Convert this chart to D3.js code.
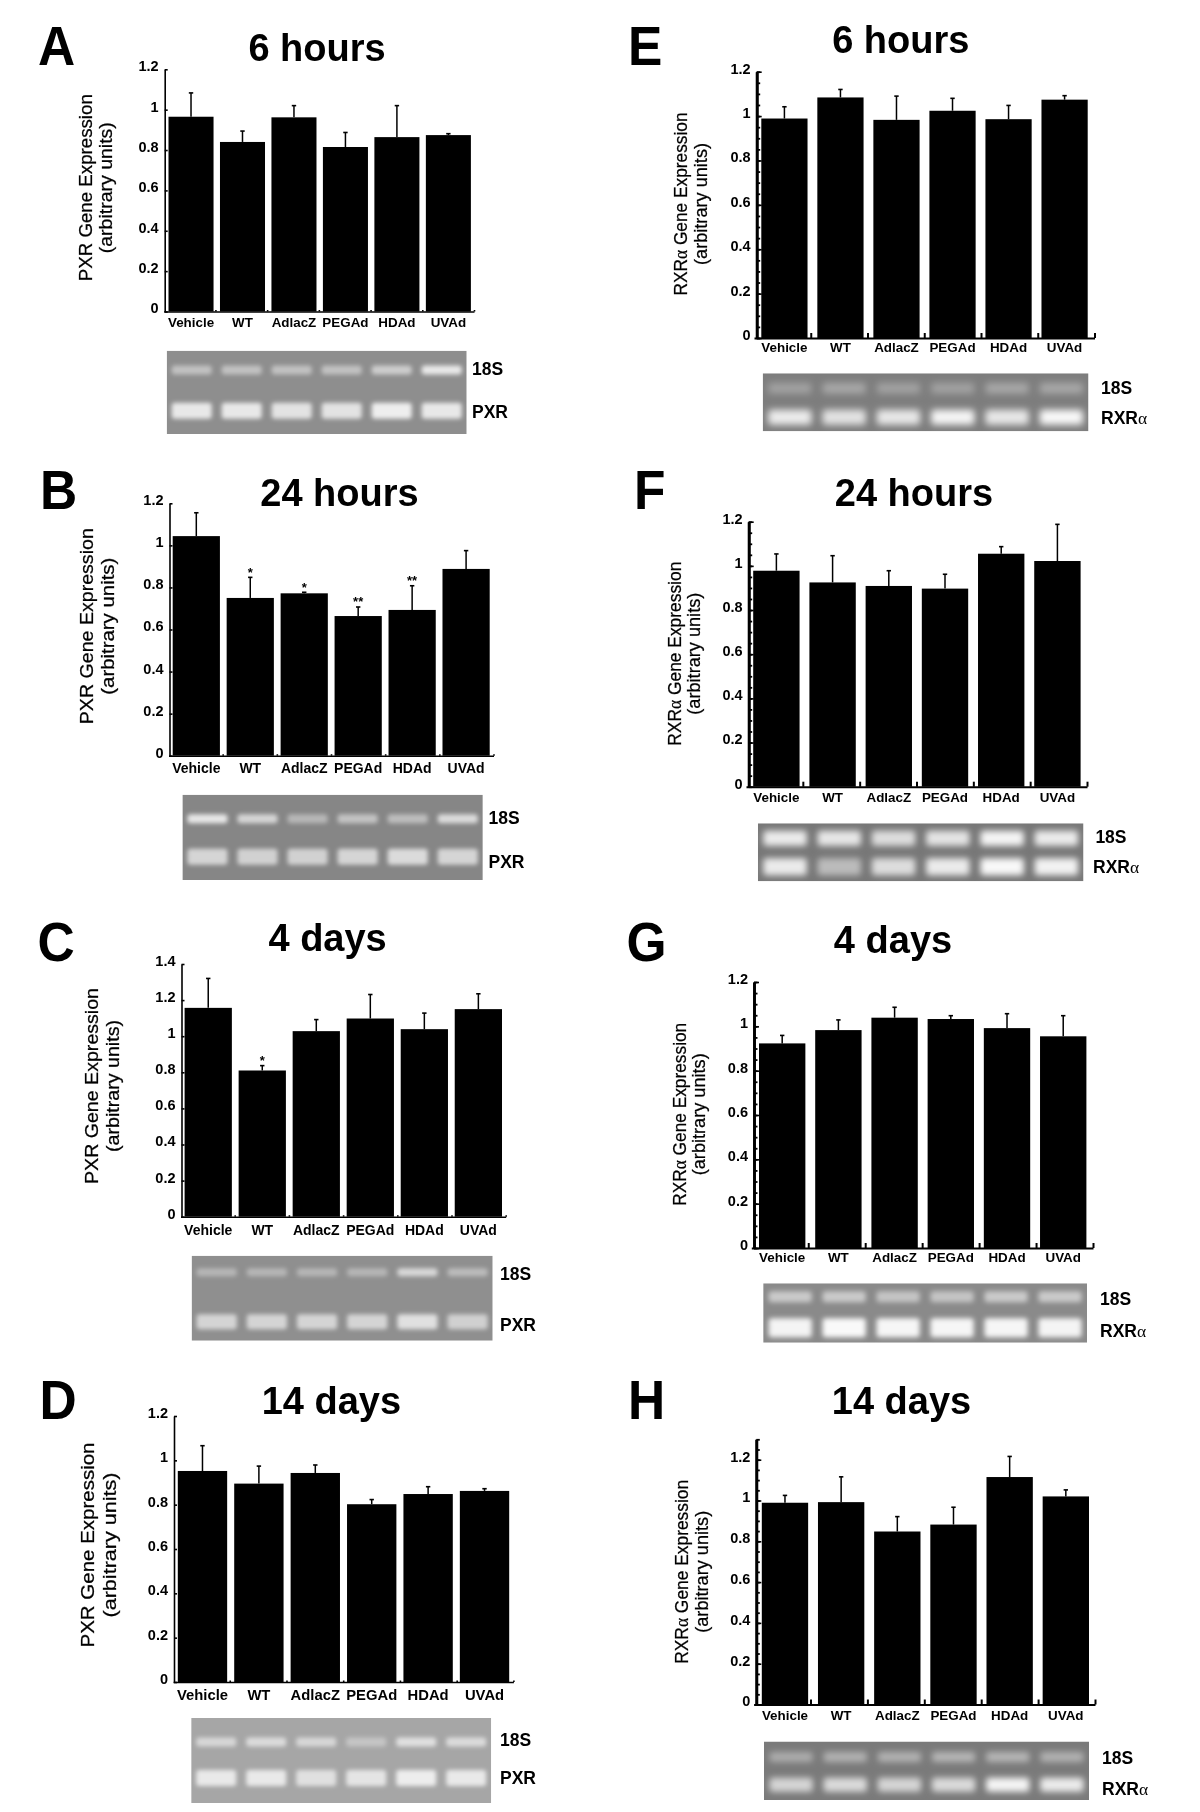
<!DOCTYPE html>
<html>
<head>
<meta charset="utf-8">
<script src="https://cdn.jsdelivr.net/npm/d3@7"></script>
<style>
  html, body { margin: 0; background: #fff; }
  svg { display: block; filter: blur(0.35px); }
  text { font-family: "Liberation Sans", Arial, sans-serif; fill: #000; }
</style>
</head>
<body>
<div id="fig"></div>
<script>
var categories = ["Vehicle", "WT", "AdlacZ", "PEGAd", "HDAd", "UVAd"];
var ticks12 = [0, 0.2, 0.4, 0.6, 0.8, 1, 1.2];
var ticks14 = [0, 0.2, 0.4, 0.6, 0.8, 1, 1.2, 1.4];

// bar heights and top of the error whisker
var pxr6h = [0.965, 0.84, 0.962, 0.815, 0.864, 0.874];
var pxr6hErr = [1.083, 0.894, 1.02, 0.887, 1.02, 0.881];
var pxr24h = [1.044, 0.75, 0.772, 0.664, 0.693, 0.888];
var pxr24hErr = [1.155, 0.848, 0.777, 0.707, 0.808, 0.975];
var pxr4d = [1.157, 0.81, 1.028, 1.098, 1.039, 1.15];
var pxr4dErr = [1.32, 0.837, 1.092, 1.231, 1.128, 1.235];
var pxr14d = [0.952, 0.895, 0.943, 0.802, 0.848, 0.862];
var pxr14dErr = [1.066, 0.974, 0.979, 0.823, 0.881, 0.872];
var rxr6h = [0.989, 1.084, 0.983, 1.024, 0.986, 1.074];
var rxr6hErr = [1.042, 1.12, 1.09, 1.08, 1.048, 1.092];
var rxr24h = [0.978, 0.925, 0.909, 0.897, 1.055, 1.022];
var rxr24hErr = [1.054, 1.046, 0.978, 0.962, 1.087, 1.188];
var rxr4d = [0.923, 0.983, 1.039, 1.033, 0.992, 0.955];
var rxr4dErr = [0.959, 1.029, 1.086, 1.048, 1.057, 1.048];
var rxr14d = [0.989, 0.992, 0.848, 0.882, 1.115, 1.02];
var rxr14dErr = [1.025, 1.116, 0.921, 0.967, 1.216, 1.052];

// significance marks
var pxr24hStars = ["", "*", "*", "**", "**", ""];
var pxr4dStars = ["", "*", "", "", "", ""];
var noStars = ["", "", "", "", "", ""];

// gel band brightness per lane (0-1)
var gelA18 = [0.45, 0.45, 0.45, 0.45, 0.55, 0.8];
var gelAtgt = [0.8, 0.8, 0.75, 0.75, 0.85, 0.8];
var gelB18 = [0.8, 0.65, 0.4, 0.5, 0.45, 0.7];
var gelBtgt = [0.65, 0.62, 0.62, 0.65, 0.7, 0.65];
var gelC18 = [0.35, 0.35, 0.35, 0.35, 0.65, 0.4];
var gelCtgt = [0.62, 0.62, 0.62, 0.62, 0.72, 0.58];
var gelD18 = [0.55, 0.6, 0.55, 0.35, 0.65, 0.6];
var gelDtgt = [0.75, 0.75, 0.65, 0.7, 0.8, 0.75];
var gelE18 = [0.28, 0.32, 0.28, 0.28, 0.32, 0.32];
var gelEtgt = [0.85, 0.78, 0.82, 0.92, 0.82, 0.95];
var gelF18 = [0.85, 0.82, 0.75, 0.8, 0.92, 0.85];
var gelFtgt = [0.85, 0.5, 0.75, 0.85, 0.95, 0.9];
var gelG18 = [0.55, 0.55, 0.5, 0.5, 0.55, 0.55];
var gelGtgt = [0.9, 0.95, 0.92, 0.92, 0.92, 0.9];
var gelH18 = [0.38, 0.42, 0.42, 0.45, 0.45, 0.42];
var gelHtgt = [0.68, 0.72, 0.68, 0.72, 0.92, 0.85];

// layout of every panel, in page pixels
var panels = [
  { letter: "A", lx: 38, ly: 65, title: "6 hours", tx: 317, ty: 61, gene: "PXR", v: pxr6h, e: pxr6hErr, stars: noStars, dom: 1.2, ticks: ticks12,
    ax: 164.7, axEnd: 474, top: 69.3, zero: 311.5, barL: 168.5, barR: 470.9, x1: 92, x2: 112, cy: 187.7, len1: 187, len2: 131, catY: 326.7, catSize: 13.4,
    gel: [166.7, 466.7, 350.7, 434], g18: 370, gT: 410.7, a18: gelA18, aT: gelAtgt, bg: "#8e8e8e", blur: 2, h18: 9, hT: 16, lab18: [472, 375], labT: [472, 417.7] },
  { letter: "B", lx: 40, ly: 509, title: "24 hours", tx: 339.5, ty: 506, gene: "PXR", v: pxr24h, e: pxr24hErr, stars: pxr24hStars, dom: 1.2, ticks: ticks12,
    ax: 169.5, axEnd: 493.5, top: 503.3, zero: 755.7, barL: 172.7, barR: 489.7, x1: 92.7, x2: 113.8, cy: 626.2, len1: 196, len2: 137, catY: 772.7, catSize: 14,
    gel: [182.4, 482.8, 794.7, 880], g18: 818.7, gT: 856.7, a18: gelB18, aT: gelBtgt, bg: "#868686", blur: 2, h18: 9, hT: 16, lab18: [488.5, 824.3], labT: [488.5, 868.3] },
  { letter: "C", lx: 37.5, ly: 960.7, title: "4 days", tx: 327.6, ty: 950.7, gene: "PXR", v: pxr4d, e: pxr4dErr, stars: pxr4dStars, dom: 1.4, ticks: ticks14,
    ax: 181.5, axEnd: 505.7, top: 964, zero: 1216.7, barL: 184.6, barR: 502, x1: 97.7, x2: 118.8, cy: 1086, len1: 196, len2: 132, catY: 1235, catSize: 14,
    gel: [191.6, 492.7, 1255.7, 1340.7], g18: 1272.3, gT: 1321.7, a18: gelC18, aT: gelCtgt, bg: "#8f8f8f", blur: 2, h18: 8, hT: 15, lab18: [500, 1280], labT: [500, 1331] },
  { letter: "D", lx: 39.5, ly: 1419.3, title: "14 days", tx: 331.4, ty: 1413.7, gene: "PXR", v: pxr14d, e: pxr14dErr, stars: noStars, dom: 1.2, ticks: ticks12,
    ax: 174, axEnd: 513.4, top: 1416, zero: 1682, barL: 177.8, barR: 509.2, x1: 93.9, x2: 115.7, cy: 1545, len1: 205, len2: 145, catY: 1699.7, catSize: 14.8,
    gel: [191.2, 491.2, 1718, 1803], g18: 1742, gT: 1778, a18: gelD18, aT: gelDtgt, bg: "#a6a6a6", blur: 2, h18: 9, hT: 16, lab18: [500, 1746.3], labT: [500, 1783.7] },
  { letter: "E", lx: 628, ly: 65, title: "6 hours", tx: 900.8, ty: 53, gene: "RXR", v: rxr6h, e: rxr6hErr, stars: noStars, dom: 1.2, ticks: ticks12,
    ax: 756.7, axEnd: 1094.5, top: 71.7, zero: 338, barL: 761.3, barR: 1087.7, x1: 687.4, x2: 707.3, cy: 204, len1: 183, len2: 122, catY: 351.7, catSize: 13.4,
    gel: [762.7, 1088.5, 373.3, 431.3], g18: 388.3, gT: 417.3, a18: gelE18, aT: gelEtgt, bg: "#7d7d7d", blur: 3.6, h18: 11, hT: 15, lab18: [1101, 394.3], labT: [1101, 424] },
  { letter: "F", lx: 634, ly: 509, title: "24 hours", tx: 914, ty: 506, gene: "RXR", v: rxr24h, e: rxr24hErr, stars: noStars, dom: 1.2, ticks: ticks12,
    ax: 748.7, axEnd: 1087, top: 521.7, zero: 786.7, barL: 753.2, barR: 1080.6, x1: 680.5, x2: 699.6, cy: 653.7, len1: 184, len2: 122, catY: 801.7, catSize: 13.4,
    gel: [757.9, 1083.5, 823.3, 881.3], g18: 838.3, gT: 866.7, a18: gelF18, aT: gelFtgt, bg: "#777777", blur: 3, h18: 15, hT: 17, lab18: [1095.4, 843.3], labT: [1093, 873.3] },
  { letter: "G", lx: 626.5, ly: 960.7, title: "4 days", tx: 893, ty: 953.3, gene: "RXR", v: rxr4d, e: rxr4dErr, stars: noStars, dom: 1.2, ticks: ticks12,
    ax: 754, axEnd: 1093, top: 982, zero: 1248, barL: 759, barR: 1086.4, x1: 685.8, x2: 705, cy: 1114.3, len1: 183, len2: 122, catY: 1262.3, catSize: 13.4,
    gel: [763.2, 1087, 1283.3, 1342.7], g18: 1296.7, gT: 1327.7, a18: gelG18, aT: gelGtgt, bg: "#8a8a8a", blur: 2.8, h18: 11, hT: 19, lab18: [1100, 1305], labT: [1100, 1337.3] },
  { letter: "H", lx: 628, ly: 1419.3, title: "14 days", tx: 901.5, ty: 1413.7, gene: "RXR", v: rxr14d, e: rxr14dErr, stars: noStars, dom: 1.3, ticks: ticks12,
    ax: 756.3, axEnd: 1095, top: 1439.3, zero: 1704.5, barL: 761.8, barR: 1089, x1: 688, x2: 708.4, cy: 1571.8, len1: 184, len2: 122, catY: 1719.7, catSize: 13.4,
    gel: [764, 1089, 1741.5, 1800], g18: 1757, gT: 1784.7, a18: gelH18, aT: gelHtgt, bg: "#7a7a7a", blur: 3.2, h18: 10, hT: 14, lab18: [1102, 1763.7], labT: [1102, 1795.3] }
];

var svg = d3.select("#fig").append("svg").attr("width", 1200).attr("height", 1812);
var defs = svg.append("defs");

function geneLabel(sel, gene, suffix) {
  // the alpha in the figure is a thin symbol glyph, so it gets its own tspan
  sel.append("tspan").text(gene);
  if (gene == "RXR") {
    sel.append("tspan").style("font-family", "'Liberation Serif', serif").style("font-weight", "normal").text("\u03b1");
  }
  if (suffix) sel.append("tspan").text(suffix);
}

panels.forEach(function (p, idx) {
  var g = svg.append("g");
  var minorStyle = p.gene == "RXR";

  var y = d3.scaleLinear().domain([0, p.dom]).range([p.zero, p.top]);
  var x = d3.scaleBand().domain(categories).range([p.barL, p.barR]).paddingInner(minorStyle ? 0.175 : 0.125).paddingOuter(0);
  var xStart = minorStyle ? p.ax - 2.7 : p.ax - 1;
  var xEdges = d3.scaleLinear().domain([0, 6]).range([xStart, p.axEnd]);

  g.append("text").attr("transform", "translate(" + p.lx + "," + p.ly + ") scale(0.92,1)")
    .attr("font-size", 56).attr("font-weight", "bold").text(p.letter);
  g.append("text").attr("x", p.tx).attr("y", p.ty).attr("text-anchor", "middle").attr("font-size", 38).attr("font-weight", "bold").text(p.title);

  // y title, two lines
  var t1 = g.append("text").attr("transform", "translate(" + p.x1 + "," + p.cy + ") rotate(-90)").attr("text-anchor", "middle")
    .attr("font-size", 18.5).attr("textLength", p.len1).attr("lengthAdjust", "spacingAndGlyphs")
    .attr("stroke", "#000").attr("stroke-width", 0.25);
  geneLabel(t1, p.gene, " Gene Expression");
  g.append("text").attr("transform", "translate(" + p.x2 + "," + p.cy + ") rotate(-90)").attr("text-anchor", "middle")
    .attr("font-size", 18.5).attr("textLength", p.len2).attr("lengthAdjust", "spacingAndGlyphs")
    .attr("stroke", "#000").attr("stroke-width", 0.25).text("(arbitrary units)");

  // bars
  g.append("g").selectAll("rect").data(categories).join("rect")
    .attr("x", function (d) { return x(d); })
    .attr("width", x.bandwidth())
    .attr("y", function (d, i) { return y(p.v[i]); })
    .attr("height", function (d, i) { return p.zero - y(p.v[i]); })
    .attr("fill", "#000");

  // error whiskers
  var err = g.append("g").attr("stroke", "#000");
  err.selectAll("line.stem").data(categories).join("line").attr("class", "stem")
    .attr("x1", function (d) { return x(d) + x.bandwidth() / 2; })
    .attr("x2", function (d) { return x(d) + x.bandwidth() / 2; })
    .attr("y1", function (d, i) { return y(p.v[i]); })
    .attr("y2", function (d, i) { return y(p.e[i]); })
    .attr("stroke-width", 1.5);
  err.selectAll("line.cap").data(categories).join("line").attr("class", "cap")
    .attr("x1", function (d) { return x(d) + x.bandwidth() / 2 - 2.2; })
    .attr("x2", function (d) { return x(d) + x.bandwidth() / 2 + 2.2; })
    .attr("y1", function (d, i) { return y(p.e[i]); })
    .attr("y2", function (d, i) { return y(p.e[i]); })
    .attr("stroke-width", 1.6);

  // stars
  g.append("g").selectAll("text").data(categories).join("text")
    .attr("x", function (d) { return x(d) + x.bandwidth() / 2; })
    .attr("y", function (d, i) { return y(p.e[i]) - 0.5; })
    .attr("text-anchor", "middle").attr("font-size", 13).attr("font-weight", "bold")
    .text(function (d, i) { return p.stars[i]; });

  // axes
  var lineW = minorStyle ? 2.7 : 1.6;
  var yAxis = d3.axisLeft(y).tickValues(p.ticks).tickSizeOuter(0)
    .tickSizeInner(minorStyle ? -5 : -3).tickPadding(6)
    .tickFormat(function (d) { return d; });
  var ya = g.append("g").attr("transform", "translate(" + p.ax + ",0)").call(yAxis);
  ya.selectAll("path,line").attr("stroke", "#000").attr("stroke-width", lineW);
  ya.selectAll("line").attr("stroke-width", 1.6);
  ya.selectAll("text").attr("font-size", 14.5).attr("font-weight", "bold").attr("dy", "0.1em")
    .style("font-family", "'Liberation Sans', Arial, sans-serif");

  if (minorStyle) {
    var minor = d3.range(0, Math.round(p.dom * 20) + 1).map(function (k) { return k / 20; });
    var ma = g.append("g").attr("transform", "translate(" + p.ax + ",0)")
      .call(d3.axisLeft(y).tickValues(minor).tickSizeOuter(0).tickSizeInner(-3.5).tickFormat(""));
    ma.selectAll("path,line").attr("stroke", "#000").attr("stroke-width", 1.8);
    ma.select("path").attr("stroke-width", lineW);
  }

  var xAxis = d3.axisBottom(xEdges).tickValues(d3.range(1, 7)).tickSizeOuter(0)
    .tickSizeInner(minorStyle ? -5 : -1.5).tickFormat("");
  var xa = g.append("g").attr("transform", "translate(0," + p.zero + ")").call(xAxis);
  xa.selectAll("path,line").attr("stroke", "#000").attr("stroke-width", minorStyle ? 2 : 1.6);

  // category names
  g.append("g").selectAll("text").data(categories).join("text")
    .attr("x", function (d) { return x(d) + x.bandwidth() / 2; })
    .attr("y", p.catY).attr("text-anchor", "middle").attr("font-size", p.catSize).attr("font-weight", "bold")
    .text(function (d) { return d; });

  // gel strip
  var gelId = "gel" + idx;
  defs.append("filter").attr("id", gelId + "b").attr("x", "-30%").attr("y", "-150%").attr("width", "160%").attr("height", "400%")
    .append("feGaussianBlur").attr("stdDeviation", p.blur);
  defs.append("clipPath").attr("id", gelId + "c").append("rect")
    .attr("x", p.gel[0]).attr("y", p.gel[2]).attr("width", p.gel[1] - p.gel[0]).attr("height", p.gel[3] - p.gel[2]);
  var lanes = d3.scaleBand().domain(categories).range([p.gel[0], p.gel[1]]).paddingInner(0.2).paddingOuter(0.1);
  var gel = g.append("g").attr("clip-path", "url(#" + gelId + "c)");
  gel.append("rect").attr("x", p.gel[0]).attr("y", p.gel[2]).attr("width", p.gel[1] - p.gel[0]).attr("height", p.gel[3] - p.gel[2]).attr("fill", p.bg);
  [[p.a18, p.g18, p.h18], [p.aT, p.gT, p.hT]].forEach(function (row) {
    gel.append("g").selectAll("rect").data(categories).join("rect")
      .attr("x", function (d) { return lanes(d); })
      .attr("width", lanes.bandwidth())
      .attr("y", row[1] - row[2] / 2)
      .attr("height", row[2])
      .attr("rx", 3)
      .attr("fill", "#fff")
      .attr("fill-opacity", function (d, i) { return row[0][i]; })
      .attr("filter", "url(#" + gelId + "b)");
  });

  g.append("text").attr("x", p.lab18[0]).attr("y", p.lab18[1]).attr("font-size", 17.5).attr("font-weight", "bold").text("18S");
  var lt = g.append("text").attr("x", p.labT[0]).attr("y", p.labT[1]).attr("font-size", 17.5).attr("font-weight", "bold");
  geneLabel(lt, p.gene);
});
</script>
</body>
</html>
